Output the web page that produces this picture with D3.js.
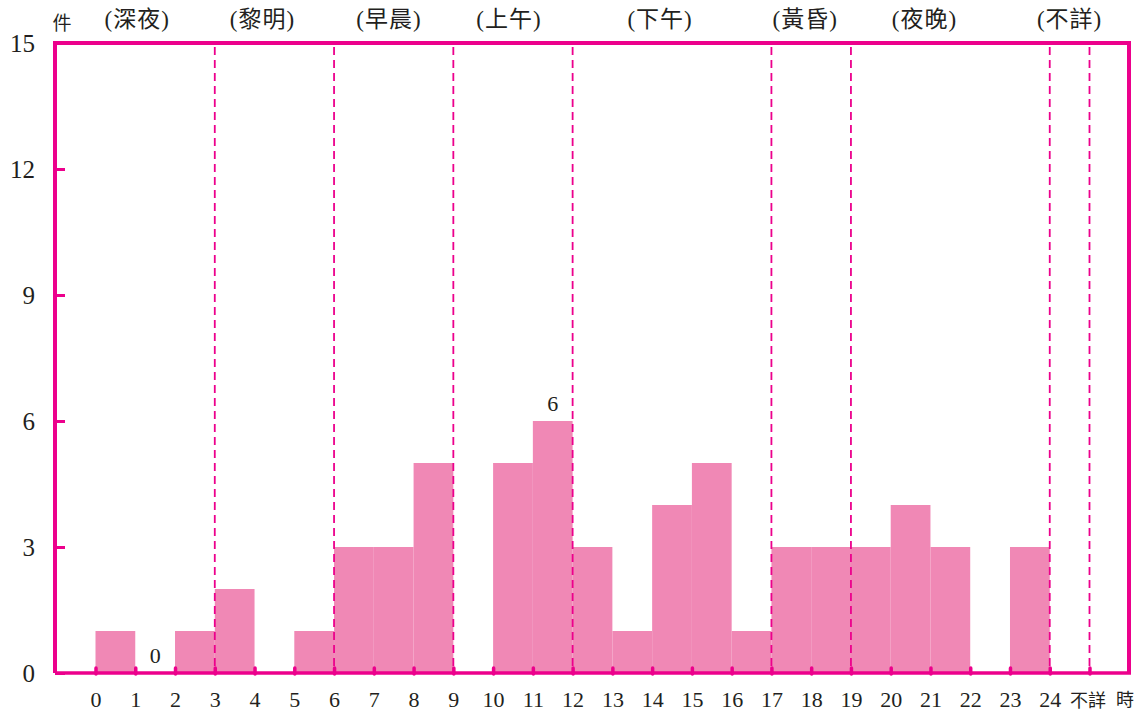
<!DOCTYPE html>
<html><head><meta charset="utf-8">
<script src="https://cdn.jsdelivr.net/npm/d3@7"></script>
<style>
html,body{margin:0;padding:0;background:#fff;}
svg text{font-family:"Liberation Serif","DejaVu Serif","Noto Sans CJK TC",serif;fill:#231f20;}
</style></head>
<body><svg id="c" width="1143" height="715"></svg>
<script>
const tickLabels = ["0","1","2","3","4","5","6","7","8","9","10","11","12","13","14","15","16","17","18","19","20","21","22","23","24","不詳"];
const counts = [1,0,1,2,0,1,3,3,5,0,5,6,3,1,4,5,1,3,3,3,4,3,0,3,0];
const yTicks = [0,3,6,9,12,15];
const dividers = [3,6,9,12,17,19,24,25];
const periods = ["(深夜)","(黎明)","(早晨)","(上午)","(下午)","(黃昏)","(夜晚)","(不詳)"];
const periodCenters = [1.05,4.2,7.38,10.4,14.2,17.85,20.85,24.5];
const valueLabels = [{i:1,v:"0"},{i:11,v:"6"}];

const svg = d3.select("#c");
const magenta = "#ec008c", barFill = "#f088b5";
const x = d3.scaleLinear().domain([0,25]).range([95.5,1089.5]);
const y = d3.scaleLinear().domain([0,15]).range([673,43]);
const L = 55, R = 1129;

svg.append("g").selectAll("rect").data(counts).join("rect")
  .attr("x",(d,i)=>x(i)).attr("width",(d,i)=>x(i+1)-x(i))
  .attr("y",d=>y(d)).attr("height",d=>y(0)-y(d))
  .attr("fill",barFill);

svg.append("g").selectAll("line").data(dividers).join("line")
  .attr("x1",d=>x(d)).attr("x2",d=>x(d)).attr("y1",y(15)+4).attr("y2",y(0))
  .attr("stroke",magenta).attr("stroke-width",1.8).attr("stroke-dasharray","8,5");

svg.append("path")
  .attr("d",`M${L},${y(0)} L${L},${y(15)} L${R},${y(15)} L${R},${y(0)}`)
  .attr("fill","none").attr("stroke",magenta).attr("stroke-width",4);
svg.append("line").attr("x1",L).attr("x2",R+2).attr("y1",y(0)).attr("y2",y(0))
  .attr("stroke",magenta).attr("stroke-width",3.5);

const yAxis = d3.axisLeft(y).tickValues(yTicks).tickSize(-10).tickPadding(20);
const gy = svg.append("g").attr("transform",`translate(${L},0)`).call(yAxis);
gy.select(".domain").remove();
gy.selectAll(".tick line").attr("stroke",magenta).attr("stroke-width",3);
gy.selectAll(".tick text").attr("font-size",25).style("fill","#231f20");

const xAxis = d3.axisBottom(x).tickValues(d3.range(0,26)).tickFormat(i=>tickLabels[i]).tickSize(-6).tickPadding(20);
const gx = svg.append("g").attr("transform",`translate(0,${y(0)+1})`).call(xAxis);
gx.select(".domain").remove();
gx.selectAll(".tick line").attr("stroke",magenta).attr("stroke-width",3.5).attr("stroke-linecap","round");
gx.selectAll(".tick text").attr("font-size",22).attr("dy",null).attr("y",33).style("fill","#231f20");
gx.selectAll(".tick").filter(d=>d===25).select("text").attr("font-size",18).attr("dx",-2);

svg.append("text").attr("x",1125).attr("y",706).attr("text-anchor","middle")
  .attr("font-size",18).text("時");
svg.append("text").attr("x",62).attr("y",30).attr("text-anchor","middle")
  .attr("font-size",19).text("件");

svg.append("g").selectAll("text").data(periods).join("text")
  .attr("x",(d,i)=>x(periodCenters[i])).attr("y",27).attr("text-anchor","middle")
  .attr("font-size",23).attr("letter-spacing",1).text(d=>d);

svg.append("g").selectAll("text").data(valueLabels).join("text")
  .attr("x",d=>x(d.i+0.5)).attr("y",d=>y(counts[d.i])-10).attr("text-anchor","middle")
  .attr("font-size",22).text(d=>d.v);
</script></body></html>
